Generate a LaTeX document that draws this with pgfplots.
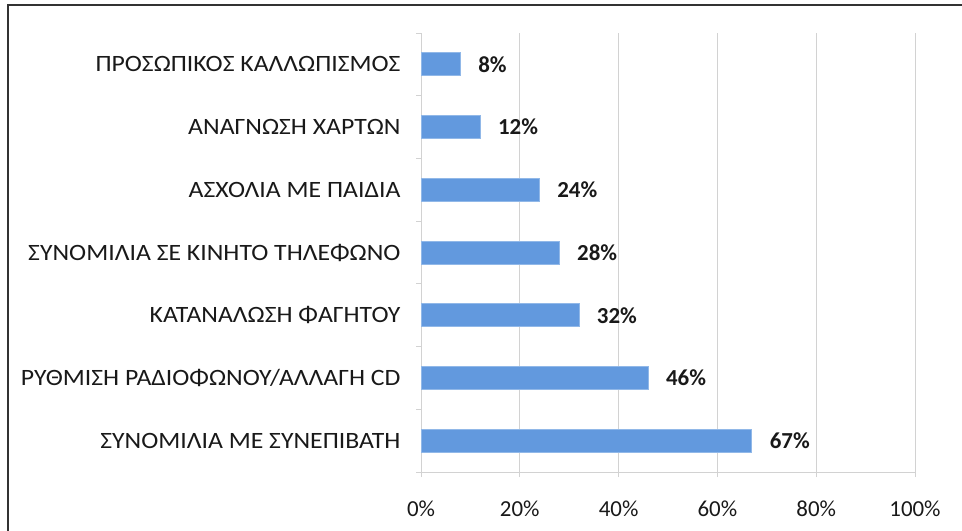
\documentclass[border=0pt]{standalone}
\usepackage{fontspec}
\setmainfont{Carlito}
\newfontfamily\catfont{Carlito}[FakeStretch=1.1]
\usepackage{pgfplots}
\pgfplotsset{compat=1.18}

\definecolor{barblue}{RGB}{98,153,222}
\definecolor{gridgray}{RGB}{210,210,210}

\begin{document}
\begin{tikzpicture}
\useasboundingbox (0,0) rectangle (962bp,531bp);
\draw[line width=2bp, black!80] (8bp,-5bp) -- (8bp,526bp) -- (970bp,526bp);
\begin{axis}[
  at={(421bp,59bp)}, anchor=south west,
  scale only axis,
  width=494bp, height=439bp,
  xbar, bar width=23bp,
  xmin=0, xmax=100,
  ymin=-0.5, ymax=6.5,
  axis lines=left,
  axis line style={gridgray, line width=1bp, -},
  xtick={0,20,...,100},
  xticklabel={\pgfmathprintnumber{\tick}\%},
  xmajorgrids,
  major grid style={gridgray, line width=1bp},
  ytick={0,...,6},
  yticklabels={ΣΥΝΟΜΙΛΙΑ ΜΕ ΣΥΝΕΠΙΒΑΤΗ, ΡΥΘΜΙΣΗ ΡΑΔΙΟΦΩΝΟΥ/ΑΛΛΑΓΗ CD,
    ΚΑΤΑΝΑΛΩΣΗ ΦΑΓΗΤΟΥ, ΣΥΝΟΜΙΛΙΑ ΣΕ ΚΙΝΗΤΟ ΤΗΛΕΦΩΝΟ,
    ΑΣΧΟΛΙΑ ΜΕ ΠΑΙΔΙΑ, ΑΝΑΓΝΩΣΗ ΧΑΡΤΩΝ, ΠΡΟΣΩΠΙΚΟΣ ΚΑΛΛΩΠΙΣΜΟΣ},
  minor ytick={-0.5,0.5,...,6.5},
  y tick style={draw=none},
  minor y tick style={draw=gridgray, line width=1bp},
  x tick style={draw=gridgray, line width=1bp},
  tick align=outside,
  major tick length=5bp, minor tick length=5bp,
  tick label style={font=\fontsize{23}{26}\selectfont, text=black!90},
  yticklabel style={font=\catfont\fontsize{23.5}{26}\selectfont, xshift=-12bp},
  xticklabel style={yshift=-20bp},
  /pgf/number format/assume math mode=true,
  nodes near coords={\pgfmathprintnumber{\pgfplotspointmeta}\%},
  nodes near coords style={font=\fontsize{23}{26}\selectfont\bfseries, text=black!90, anchor=west, xshift=14bp},
  clip=false,
]
\addplot[fill=barblue, draw=barblue!70!white, line width=1bp] coordinates {
  (67,0) (46,1) (32,2) (28,3) (24,4) (12,5) (8,6)
};
\end{axis}
\end{tikzpicture}
\end{document}
